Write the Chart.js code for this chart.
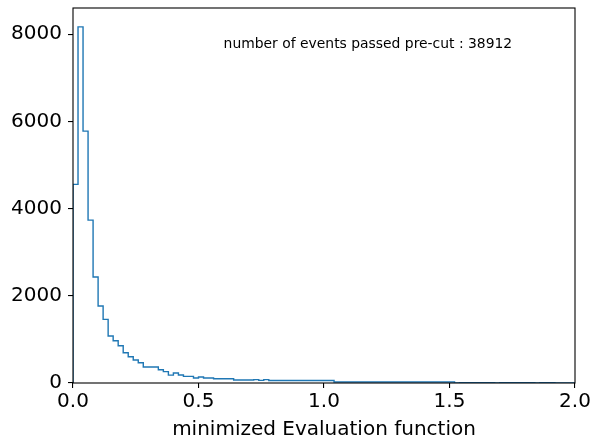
<!DOCTYPE html>
<html>
<head>
<meta charset="utf-8">
<script src="https://cdn.jsdelivr.net/npm/chart.js@4.4.0/dist/chart.umd.min.js"></script>
<style>
  body { margin: 0; background: #fff; }
  #grafico { display: block; }
</style>
</head>
<body>
<canvas id="grafico" width="592" height="443"></canvas>
<script>
// histogram bins: 100 bins of width 0.02 between 0 and 2
const binInicio = 0;
const binAncho = 0.02;
const conteos = [
  4555, 8167, 5776, 3736, 2430, 1765, 1460, 1077, 970, 855,
  695, 603, 527, 466, 367, 367, 367, 305, 260, 180,
  230, 185, 151, 151, 115, 137, 115, 115, 99, 99,
  99, 99, 70, 70, 70, 70, 78, 60, 78, 58,
  58, 58, 58, 58, 58, 58, 58, 58, 58, 58,
  58, 58, 22, 22, 22, 22, 22, 22, 22, 22,
  22, 22, 22, 22, 22, 22, 22, 22, 22, 22,
  22, 22, 22, 22, 22, 22, 0, 7, 7, 7,
  7, 7, 7, 7, 0, 6, 6, 6, 6, 6,
  6, 6, 0, 5, 5, 5, 0, 0, 0, 0
];
const ticksX = [0, 0.5, 1.0, 1.5, 2.0];
const ticksY = [0, 2000, 4000, 6000, 8000];
const textoEventos = 'number of events passed pre-cut : 38912';

const fuente = "'DejaVu Sans', sans-serif";

// step outline: each point holds its count until the next edge
const puntos = [{ x: binInicio, y: 0 }];
conteos.forEach((c, i) => {
  puntos.push({ x: binInicio + i * binAncho, y: c });
});
const finX = binInicio + conteos.length * binAncho;
puntos.push({ x: finX, y: conteos[conteos.length - 1] });
puntos.push({ x: finX, y: 0 });

const marcoYTexto = {
  id: 'marcoYTexto',
  afterDraw(chart) {
    const { ctx, chartArea, scales } = chart;
    ctx.save();
    ctx.strokeStyle = '#000';
    ctx.lineWidth = 1.1;
    ctx.strokeRect(chartArea.left, chartArea.top,
      chartArea.right - chartArea.left, chartArea.bottom - chartArea.top);

    ctx.fillStyle = '#000';
    ctx.font = '13.9px ' + fuente;
    ctx.textAlign = 'left';
    ctx.textBaseline = 'alphabetic';
    ctx.fillText(textoEventos, scales.x.getPixelForValue(0.6), scales.y.getPixelForValue(7690));
    ctx.restore();
  }
};

new Chart(document.getElementById('grafico').getContext('2d'), {
  type: 'line',
  data: {
    datasets: [{
      data: puntos,
      stepped: 'before',
      borderColor: '#1f77b4',
      borderWidth: 1.4,
      pointRadius: 0,
      fill: false
    }]
  },
  options: {
    responsive: false,
    animation: false,
    parsing: false,
    layout: { padding: { left: 0, right: 17, top: 8, bottom: 0 } },
    plugins: {
      legend: { display: false },
      tooltip: { enabled: false }
    },
    scales: {
      x: {
        type: 'linear',
        min: 0,
        max: 2,
        afterBuildTicks: s => { s.ticks = ticksX.map(v => ({ value: v })); },
        afterFit: s => { s.height = 60; s.paddingLeft = 0; s.paddingRight = 0; },
        grid: { display: true, drawOnChartArea: false, drawTicks: true, tickLength: 5, color: '#000', lineWidth: 1.1 },
        border: { display: false },
        ticks: {
          color: '#000',
          font: { family: fuente, size: 20 },
          padding: 2,
          maxRotation: 0,
          callback: v => v.toFixed(1)
        },
        title: {
          display: true,
          text: 'minimized Evaluation function',
          color: '#000',
          font: { family: fuente, size: 20 },
          padding: { top: 0, bottom: 1 }
        }
      },
      y: {
        type: 'linear',
        min: 0,
        max: 8600,
        afterBuildTicks: s => { s.ticks = ticksY.map(v => ({ value: v })); },
        afterFit: s => { s.width = 73; s.paddingTop = 0; s.paddingBottom = 0; },
        grid: { display: true, drawOnChartArea: false, drawTicks: true, tickLength: 5, color: '#000', lineWidth: 1.1 },
        border: { display: false },
        ticks: {
          color: '#000',
          font: { family: fuente, size: 20 },
          padding: 6,
          callback: v => String(v)
        }
      }
    }
  },
  plugins: [marcoYTexto]
});
</script>
</body>
</html>
